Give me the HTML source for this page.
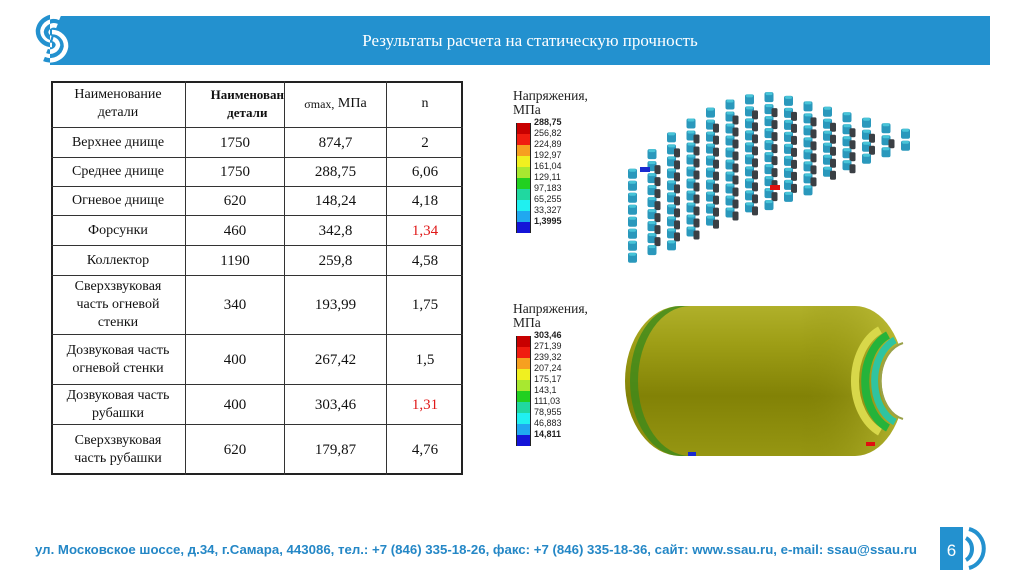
<!DOCTYPE html>
<html><head><meta charset="utf-8">
<style>
html,body{margin:0;padding:0;background:#fff;}
body{width:1024px;height:576px;position:relative;overflow:hidden;font-family:"Liberation Serif",serif;}
.abs{position:absolute;}
.cell{position:absolute;display:flex;align-items:center;justify-content:center;text-align:center;font-size:14px;line-height:18px;color:#111;}
</style></head>
<body>
<div class="abs" style="left:50px;top:16px;width:940px;height:49px;background:#2391cf;"></div>
<svg class="abs" style="left:0;top:0" width="1024" height="576">
<defs><clipPath id="cl"><rect x="0" y="0" width="50" height="80"/></clipPath><clipPath id="cr"><rect x="50" y="0" width="100" height="80"/></clipPath></defs>
<g clip-path="url(#cl)" fill="none" stroke="#2391cf" stroke-width="4.5">
<path d="M60 18 A16 16 0 0 0 38 30 A14 14 0 0 0 52 45"/>
<path d="M57 26 A8 8 0 0 0 46 32 A7 7 0 0 0 51 38"/>
<path d="M44 59 A16 16 0 0 0 66 47 A14 14 0 0 0 52 32"/>
<path d="M47 51 A8 8 0 0 0 58 45 A7 7 0 0 0 53 39"/>
</g>
<g clip-path="url(#cr)" fill="none" stroke="#fff" stroke-width="4.5">
<path d="M60 18 A16 16 0 0 0 38 30 A14 14 0 0 0 52 45"/>
<path d="M57 26 A8 8 0 0 0 46 32 A7 7 0 0 0 51 38"/>
<path d="M44 59 A16 16 0 0 0 66 47 A14 14 0 0 0 52 32"/>
<path d="M47 51 A8 8 0 0 0 58 45 A7 7 0 0 0 53 39"/>
</g>
</svg>
<div class="abs" style="left:50px;top:31px;width:960px;text-align:center;color:#fff;font-size:17px;">Результаты расчета на статическую прочность</div>

<div class="abs" style="left:51px;top:81px;width:412px;height:394px;border:2px solid #222;box-sizing:border-box;"></div>
<div id="tbl"></div>

<div class="abs" style="left:513px;top:89px;font-size:13.5px;line-height:14px;color:#222;">Напряжения,<br>МПа</div>
<div id="leg1"></div>
<div class="abs" style="left:513px;top:302px;font-size:13.5px;line-height:14px;color:#222;">Напряжения,<br>МПа</div>
<div id="leg2"></div>

<svg class="abs" style="left:0;top:0" width="1024" height="576" id="pins"></svg>

<svg class="abs" style="left:0;top:0" width="1024" height="576">
<defs>
<linearGradient id="bg" x1="0" y1="0" x2="0" y2="1"><stop offset="0" stop-color="#b0b02a"/><stop offset="0.25" stop-color="#9e9e16"/><stop offset="0.6" stop-color="#828206"/><stop offset="1" stop-color="#969612"/></linearGradient>
<linearGradient id="eg" x1="0" y1="0" x2="1" y2="0"><stop offset="0" stop-color="#808008" stop-opacity="0"/><stop offset="1" stop-color="#d0d048"/></linearGradient>
</defs>
<path d="M680 306 L855 306 A50 75 0 0 1 905 381 A50 75 0 0 1 855 456 L680 456 A55 75 0 0 1 680 306 Z" fill="url(#bg)"/>
<path d="M630 381 A50 75 0 0 1 680 306 L690 306 A52 75 0 0 0 690 456 L680 456 A50 75 0 0 1 630 381Z" fill="#3c8a1c" opacity="0.8"/>
<path d="M800 306 L855 306 A50 75 0 0 1 905 381 A50 75 0 0 1 855 456 L800 456 Z" fill="url(#eg)" opacity="0.6"/>
<path d="M880 330 A40 55 0 0 0 880 432" fill="none" stroke="#d8d84a" stroke-width="8"/>
<path d="M888 335 A36 50 0 0 0 888 428" fill="none" stroke="#25b33a" stroke-width="8"/>
<path d="M895 340 A32 44 0 0 0 895 422" fill="none" stroke="#2fc4a0" stroke-width="7"/>
<path d="M905 342 A30 40 0 0 0 905 420 L915 420 L915 342 Z" fill="#fff"/>
<path d="M903 343 A29 39 0 0 0 903 419" fill="none" stroke="#9aa24a" stroke-width="2"/>
<rect x="688" y="452" width="8" height="4" fill="#1a2ad0"/>
<rect x="866" y="442" width="9" height="4" fill="#e01010"/>
</svg>

<svg class="abs" style="left:0;top:0" width="1024" height="576">
<text x="35" y="554" textLength="882" lengthAdjust="spacingAndGlyphs" font-family="Liberation Sans, sans-serif" font-weight="bold" font-size="13" fill="#2487c6">ул. Московское шоссе, д.34, г.Самара, 443086, тел.: +7 (846) 335-18-26, факс: +7 (846) 335-18-36, сайт: www.ssau.ru, e-mail: ssau@ssau.ru</text>
<rect x="940" y="527" width="23" height="43" fill="#2391cf"/>
<text x="951.5" y="556" text-anchor="middle" font-family="Liberation Sans, sans-serif" font-size="17" fill="#fff">6</text>
<path d="M966 538 A10 12 0 0 1 966 560" fill="none" stroke="#2391cf" stroke-width="4"/>
<path d="M969 529 A19 20 0 0 1 969 568" fill="none" stroke="#2391cf" stroke-width="4"/>
</svg>

<script>
const colX=[51,185,284,386,463];
const rowY=[81,127,157,186,215,245,275,334,384,424,475];
const names=["Наименование<br>детали","Верхнее днище","Среднее днище","Огневое днище","Форсунки","Коллектор","Сверхзвуковая<br>часть огневой<br>стенки","Дозвуковая часть<br>огневой стенки","Дозвуковая часть<br>рубашки","Сверхзвуковая<br>часть рубашки"];
const col2=["Наименован<br>детали","1750","1750","620","460","1190","340","400","400","620"];
const col3=["σmax, МПа","874,7","288,75","148,24","342,8","259,8","193,99","267,42","303,46","179,87"];
const col4=["n","2","6,06","4,18","1,34","4,58","1,75","1,5","1,31","4,76"];
const red=[4,8];
const tbl=document.getElementById('tbl');
let html='';
for(let r=0;r<names.length;r++){
 const y=rowY[r],h=rowY[r+1]-y;
 const cols=[names[r],col2[r],col3[r],col4[r]];
 for(let c=0;c<4;c++){
  const x=colX[c],w=colX[c+1]-x;
  let st=`left:${x}px;top:${y}px;width:${w}px;height:${h}px;border-left:${c?1.5:0}px solid #333;border-top:${r?1.5:0}px solid #333;box-sizing:border-box;`;
  if(c>0&&r>0)st+='font-size:15px;';
  if(c==3&&red.includes(r))st+='color:#e01818;';
  if(r==0&&c==1)st+='font-weight:bold;font-size:13px;justify-content:flex-end;';
  let txt=cols[c];
  if(r==0&&c==2)txt='<span style="font-size:12px">σmax,</span>&nbsp;МПа';
  html+=`<div class="cell" style="${st}">${txt}</div>`;
 }
}
tbl.innerHTML=html;

function legend(id,top,vals,colors,name){
 let h='';const step=11;
 for(let i=0;i<colors.length;i++){
  h+=`<div class="abs" style="left:516px;top:${top+i*step}px;width:15px;height:${step}px;background:${colors[i]};border-left:1px solid #222;border-right:1px solid #222;box-sizing:border-box"></div>`;
 }
 for(let i=0;i<vals.length;i++){
  const b=(i==0||i==vals.length-1)?'bold':'normal';
  h+=`<div class="abs" style="left:534px;top:${top-6+i*step}px;font-family:'Liberation Sans',sans-serif;font-size:9px;font-weight:${b};color:#222">${vals[i]}</div>`;
 }
 document.getElementById(id).innerHTML=h;
}
const cols=["#c80000","#f01c10","#f6a020","#f0f020","#a8e830","#22d020","#20d8a0","#20f0f0","#20a8f0","#1414d8"];
const leg1Vals=["288,75","256,82","224,89","192,97","161,04","129,11","97,183","65,255","33,327","1,3995"];
const leg2Vals=["303,46","271,39","239,32","207,24","175,17","143,1","111,03","78,955","46,883","14,811"];
legend('leg1',123,leg1Vals,cols,'legend-1');
legend('leg2',336,leg2Vals,cols,'legend-2');

// injector pins (illustrative)
const svg=document.getElementById('pins');
function topY(x){ if(x<770) return 92+Math.pow((770-x)/145,2)*80; return 92+(x-770)*0.28; }
function botY(x){ return 255-(x-640)*0.42; }
let g='';
let k=0;
for(let x=628;x<=905;x+=19.5,k++){
 const t=topY(x),b=botY(x);
 for(let y=t;y<b;y+=12){
  g+=`<rect x="${x.toFixed(1)}" y="${y.toFixed(1)}" width="9" height="10" rx="2" fill="#2a98bc"/>`;
  g+=`<rect x="${(x+1).toFixed(1)}" y="${y.toFixed(1)}" width="7" height="3" rx="1.5" fill="#48c4d8"/>`;
  if(k>0&&y>t+10&&y<b-8){
   g+=`<rect x="${(x+7).toFixed(1)}" y="${(y+4).toFixed(1)}" width="6" height="9" rx="1.5" fill="#3a3f44"/>`;
  }
 }
}
g+=`<rect x="640" y="167" width="10" height="5" fill="#1a2ad0"/><rect x="770" y="185" width="10" height="5" fill="#e01010"/>`;
svg.innerHTML=g;
</script>
</body></html>
